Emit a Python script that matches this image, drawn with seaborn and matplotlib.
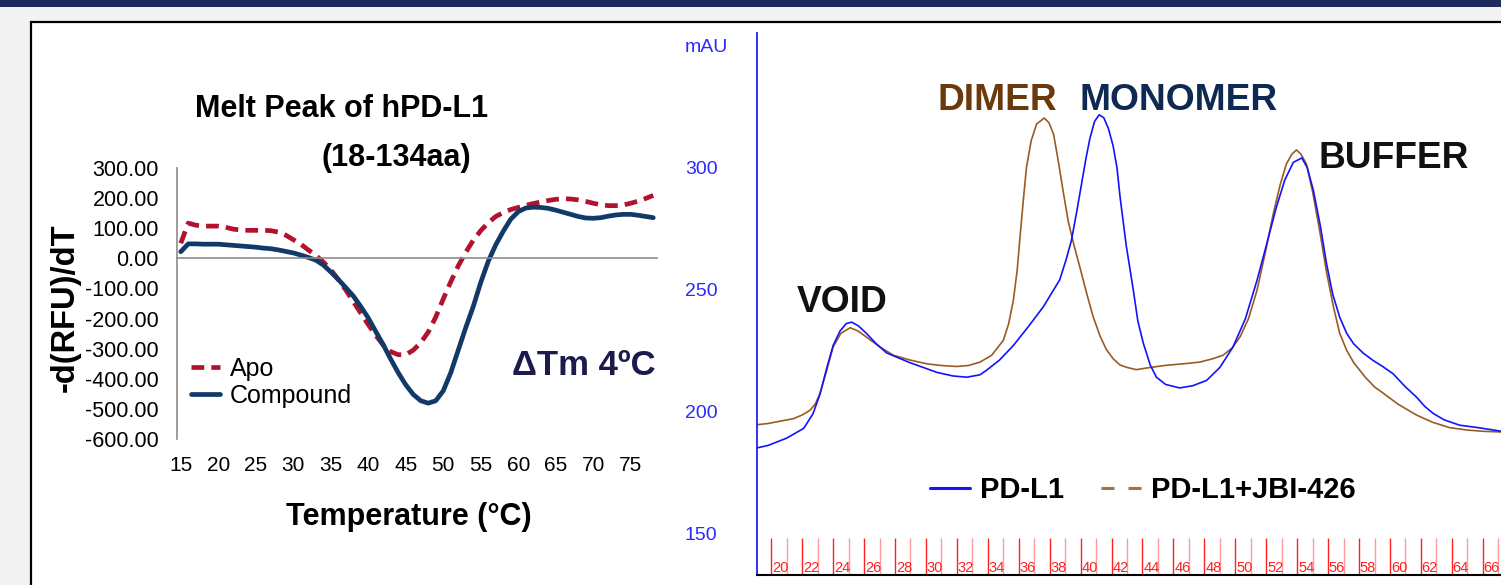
import numpy as np
import pandas as pd
import seaborn as sns
import matplotlib.pyplot as plt
from matplotlib.lines import Line2D
from matplotlib.patches import Rectangle
from matplotlib.ticker import FormatStrFormatter, MultipleLocator

# Melt peak (left panel), one value per degree
temperature = list(range(15, 79))
apo = [50, 117, 110, 107, 107, 107, 103, 97, 94, 93,
       93, 93, 92, 87, 77, 62, 47, 28, 10, -12,
       -38, -70, -105, -143, -182, -220, -256, -288, -310, -320,
       -320, -305, -280, -245, -195, -135, -78, -25, 20, 60,
       92, 118, 139, 152, 162, 169, 176, 182, 187, 192,
       196, 198, 197, 194, 189, 183, 178, 175, 175, 177,
       183, 190, 199, 209]
compound = [22, 48, 48, 47, 47, 47, 45, 43, 41, 39,
            37, 34, 32, 28, 23, 18, 11, 3, -6, -22,
            -45, -70, -97, -125, -160, -198, -243, -287, -335, -380,
            -420, -452, -473, -481, -473, -440, -380, -305, -230, -160,
            -80, -10, 45, 90, 130, 155, 167, 170, 169, 166,
            160, 153, 146, 139, 134, 133, 135, 140, 144, 146,
            146, 143, 139, 135]
temp_labels = [15, 20, 25, 30, 35, 40, 45, 50, 55, 60, 65, 70, 75]
melt_yticks = [-600, -500, -400, -300, -200, -100, 0, 100, 200, 300]

# SEC chromatogram (right panel)
pdl1_volume = [36.2, 37.6, 40.0, 42.2, 43.4, 44.3, 45.2, 46.0, 46.9, 47.7,
               48.4, 49.3, 50.3, 51.5, 52.9, 55.9, 59.4, 61.5, 63.3, 65.0,
               65.9, 67.5, 69.3, 71.3, 73.2, 75.3, 76.1, 76.8, 77.5, 78.1,
               78.7, 79.2, 79.8, 80.4, 81.0, 81.6, 82.2, 82.7, 83.1, 83.9,
               84.8, 85.4, 86.1, 87.0, 87.8, 89.0, 90.8, 92.5, 94.3, 96.0,
               97.7, 99.3, 100.8, 102.0, 103.3, 104.4, 105.5, 106.6, 107.3, 108.1,
               109.0, 109.8, 110.6, 111.5, 112.4, 113.3, 114.5, 115.8, 117.0, 118.4,
               120.0, 121.4, 122.5, 123.6, 125.0, 127.0, 129.6, 132.4]
pdl1_mau = [185, 186, 189, 193, 199, 207, 218, 227, 233, 236,
            236.6, 235, 232, 228, 224, 220, 216, 214.5, 214, 215,
            217, 221, 227, 235, 243, 254, 262, 270, 282, 293,
            304, 312, 319, 321.7, 320.5, 316, 309, 300, 288, 268,
            250, 237, 228, 219, 214, 211, 209.6, 210.5, 212.7, 218,
            226.4, 238, 253.7, 268, 283.7, 295, 302.2, 304, 300, 290.6,
            276, 260.5, 248, 238.6, 232, 227.7, 224, 220.9, 218.5, 215.4,
            210, 205.9, 202, 199.1, 196.5, 194.3, 193.2, 191.8]
jbi_volume = [36.2, 37.6, 40.9, 42.0, 43.0, 43.7, 44.3, 45.1, 46.0, 47.0,
              48.2, 49.2, 50.3, 52.0, 53.8, 56.0, 58.1, 60.0, 62.0, 63.5,
              65.0, 66.5, 68.0, 68.7, 69.3, 69.8, 70.2, 70.6, 71.0, 71.6,
              72.3, 73.3, 73.9, 74.5, 75.1, 75.8, 76.4, 77.1, 78.0, 78.8,
              79.6, 80.5, 81.3, 82.2, 83.1, 84.0, 85.2, 87.0, 89.1, 91.3,
              93.4, 95.0, 96.4, 97.6, 98.6, 99.7, 100.8, 101.8, 102.9, 103.8,
              104.6, 105.3, 105.9, 106.5, 107.2, 108.0, 108.9, 109.8, 110.7, 111.5,
              112.4, 113.3, 114.8, 116.0, 117.1, 119.0, 121.4, 123.5, 125.7, 128.0,
              130.0, 132.4]
jbi_mau = [194.5, 195, 197, 198.5, 200.4, 203, 207.3, 216, 226.4, 232,
           234.3, 233, 230.5, 226.5, 223, 221, 219.5, 218.8, 218.4, 218.8,
           220.2, 223, 229.1, 236, 245.5, 258, 272.8, 287, 300.1, 311,
           317.9, 320.4, 318.5, 313.8, 303, 289.2, 278, 268.7, 258, 248.2,
           239, 231, 225.5, 221.6, 219, 218, 217.1, 218, 218.9, 219.5,
           220.2, 221.5, 223, 226, 230.5, 238, 249.6, 264, 281, 293,
           301.5, 305.5, 307.3, 305.5, 301.5, 290, 274.2, 257, 242.7, 232,
           225, 220, 214, 210, 207.5, 203, 198.5, 195.5, 193.3, 192.3,
           191.8, 191.5]
sec_yticks = [150, 200, 250, 300, 350]
sec_ylabels = ["150", "200", "250", "300", "mAU"]
sec_xticks = [40, 60, 80, 100, 120]
fractions = list(range(20, 68))
fraction_width = 2

W, H = 1501, 585


def fx(px):
    return px / W


def fy(py):
    return 1 - py / H


sns.set_style("white")
plt.rcParams["font.family"] = ["Liberation Sans", "DejaVu Sans"]
plt.rcParams["text.color"] = "black"
plt.rcParams["xtick.labelcolor"] = "black"
plt.rcParams["ytick.labelcolor"] = "black"

fig = plt.figure(figsize=(W / 100, H / 100), dpi=100)
fig.patch.set_facecolor("#f2f2f2")
fig.patches.append(Rectangle((0, fy(7)), 1, 7 / H, transform=fig.transFigure,
                             facecolor="#1c2a5e", edgecolor="none", zorder=-10))
fig.patches.append(Rectangle((fx(31), -0.1), 1.2, fy(22) + 0.1,
                             transform=fig.transFigure, facecolor="white",
                             edgecolor="black", lw=1.6, zorder=-10))

# ---------------- left: melt peak ----------------
ax1 = fig.add_axes([fx(177), fy(439), 480 / W, 271 / H])
ax1.patch.set_alpha(0)
df_melt = pd.DataFrame({"Temperature": temperature, "Apo": apo,
                        "Compound": compound})
sns.lineplot(data=df_melt, x="Temperature", y="Apo", ax=ax1, estimator=None,
             color="#b3122e", lw=3.4, linestyle=(0, (2.7, 1.5)), label="Apo")
sns.lineplot(data=df_melt, x="Temperature", y="Compound", ax=ax1,
             estimator=None, color="#123a68", lw=3.4, label="Compound")

ax1.set_xlim(14.5, 78.5)
ax1.set_ylim(-600, 300)
ax1.set_xlabel("")
ax1.set_ylabel("")
ax1.spines[["top", "right"]].set_visible(False)
ax1.spines["bottom"].set_position(("data", 0))
for s in ["left", "bottom"]:
    ax1.spines[s].set_color("#8c8c8c")
    ax1.spines[s].set_linewidth(1.2)
ax1.set_yticks(melt_yticks)
ax1.yaxis.set_major_formatter(FormatStrFormatter("%.2f"))
ax1.tick_params(axis="y", length=4, width=1.2, color="#8c8c8c",
                labelsize=15.5, pad=9, labelcolor="black")
ax1.set_xticks(np.arange(15.5, 78.0, 1))
ax1.tick_params(axis="x", length=5, width=1.1, color="#8c8c8c",
                labelbottom=False)
sec = ax1.secondary_xaxis("bottom")
sec.set_xticks(temp_labels)
sec.tick_params(length=0, labelsize=15, pad=12, labelcolor="black")
sec.spines["bottom"].set_visible(False)

leg = ax1.legend(loc="upper left",
                 bbox_to_anchor=((191 - 177) / 480, (439 - 357) / 271),
                 frameon=False, borderpad=0, borderaxespad=0, fontsize=18,
                 handlelength=1.15, handletextpad=0.4, labelspacing=0.12)
for t in leg.get_texts():
    t.set_color("black")

fig.text(fx(65), fy(308), "-d(RFU)/dT", rotation=90, ha="center", va="center",
         fontsize=23.5, fontweight="bold", color="black")
fig.text(fx(342), fy(117), "Melt Peak of hPD-L1", ha="center", va="baseline",
         fontsize=22, fontweight="bold", color="black")
fig.text(fx(396), fy(166), "(18-134aa)", ha="center", va="baseline",
         fontsize=22, fontweight="bold", color="black")
fig.text(fx(409), fy(525), "Temperature (°C)", ha="center", va="baseline",
         fontsize=22, fontweight="bold", color="black")
fig.text(fx(656), fy(375), "ΔTm 4ºC", ha="right", va="baseline",
         fontsize=25, fontweight="bold", color="#1b1b4d")

# ---------------- right: SEC trace ----------------
ax2 = fig.add_axes([fx(757), fy(575), 744 / W, 542 / H])
ax2.patch.set_alpha(0)
df_pdl1 = pd.DataFrame({"Volume": pdl1_volume, "mAU": pdl1_mau})
df_jbi = pd.DataFrame({"Volume": jbi_volume, "mAU": jbi_mau})
sns.lineplot(data=df_jbi, x="Volume", y="mAU", ax=ax2, estimator=None,
             color="#9a5b22", lw=1.2)
sns.lineplot(data=df_pdl1, x="Volume", y="mAU", ax=ax2, estimator=None,
             color="#1212ff", lw=1.2)

ax2.set_xlim(36.16, 132.35)
ax2.set_ylim(132.8, 355.3)
ax2.set_xlabel("")
ax2.set_ylabel("")
ax2.spines[["top", "right"]].set_visible(False)
ax2.spines["left"].set_color("#2020ff")
ax2.spines["left"].set_linewidth(1.3)
ax2.spines["bottom"].set_color("black")
ax2.spines["bottom"].set_linewidth(1.5)
ax2.set_yticks(sec_yticks)
ax2.set_yticklabels(sec_ylabels)
ax2.yaxis.set_minor_locator(MultipleLocator(25))
ax2.tick_params(axis="y", which="major", length=4, width=1, color="#2020ff",
                labelsize=14, labelcolor="#2a2aff", pad=48)
ax2.tick_params(axis="y", which="minor", length=2, width=1, color="#2020ff")
for lab in ax2.get_yticklabels():
    lab.set_horizontalalignment("left")
ax2.set_xticks(sec_xticks)
ax2.xaxis.set_minor_locator(MultipleLocator(10))
ax2.tick_params(axis="x", which="both", length=5, width=1, color="#b0b0b0",
                labelsize=12, labelcolor="#666666", pad=6)

# fraction markers
xt = ax2.get_xaxis_transform()
for n in fractions:
    v = fraction_width * (n - 1)
    ax2.vlines(v, 0, 0.068, transform=xt, lw=1,
               color="#ff2020" if n % 2 == 0 else "#ff9a9a")
    if n % 2 == 0:
        ax2.text(v + 0.1, 0.006, str(n), transform=xt, ha="left",
                 va="baseline", fontsize=10.5, color="#ff2020")

ax2.text(41.33, 240.7, "VOID", fontsize=26.7, fontweight="bold",
         color="#111111", va="baseline")
ax2.text(59.55, 323.8, "DIMER", fontsize=26.7, fontweight="bold",
         color="#6b3a0c", va="baseline")
ax2.text(77.9, 323.8, "MONOMER", fontsize=26.7, fontweight="bold",
         color="#0e2a52", va="baseline")
ax2.text(108.7, 300.0, "BUFFER", fontsize=26.7, fontweight="bold",
         color="#111111", va="baseline")

handles = [Line2D([], [], color="#1414ff", lw=2.2),
           Line2D([], [], color="#a8713c", lw=2.2, linestyle=(0, (4.25, 4.6)))]
leg2 = ax2.legend(handles, ["PD-L1", "PD-L1+JBI-426"], ncol=2,
                  loc="center left",
                  bbox_to_anchor=((930 - 757) / 744, (575 - 490) / 542),
                  frameon=False, borderpad=0, borderaxespad=0,
                  handlelength=1.37, handletextpad=0.34, columnspacing=1.27,
                  prop=dict(weight="bold", size=21))
for t in leg2.get_texts():
    t.set_color("black")

fig.savefig("out.png", dpi=100, facecolor=fig.get_facecolor())
